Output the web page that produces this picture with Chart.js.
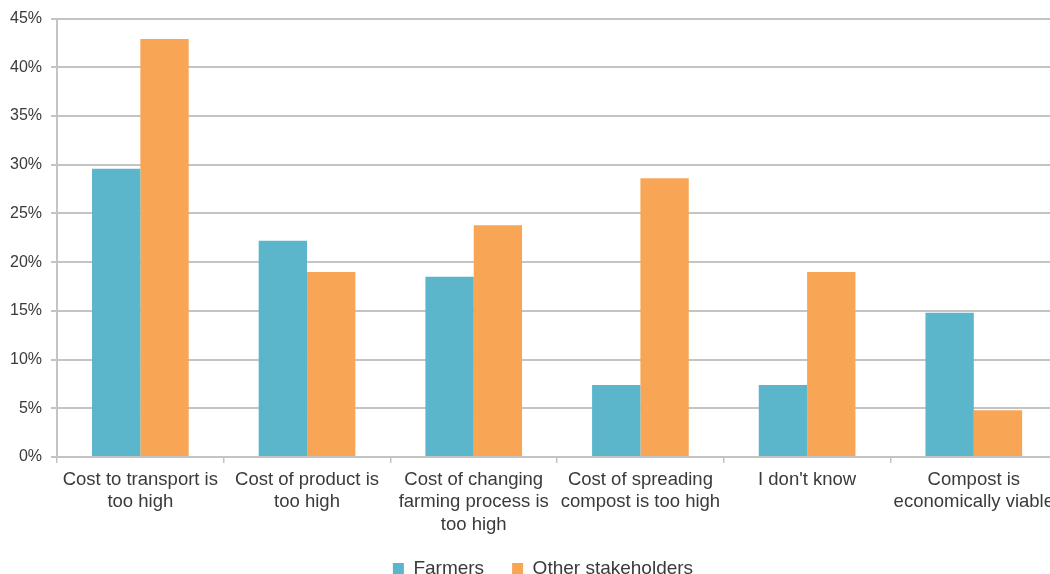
<!DOCTYPE html>
<html>
<head>
<meta charset="utf-8">
<script src="https://cdn.jsdelivr.net/npm/chart.js@4/dist/chart.umd.min.js"></script>
<style>
  html, body { margin: 0; padding: 0; background: #fff; overflow: hidden; }
  #wrap { width: 1060px; height: 574px; position: relative; }
</style>
</head>
<body>
<div id="wrap"><canvas id="c" width="1060" height="574"></canvas></div>
<script>
const categories = [
  ["Cost to transport is", "too high"],
  ["Cost of product is", "too high"],
  ["Cost of changing", "farming process is", "too high"],
  ["Cost of spreading", "compost is too high"],
  ["I don't know"],
  ["Compost is", "economically viable"]
];
const seriesNames = ["Farmers", "Other stakeholders"];
const farmers = [29.6, 22.2, 18.5, 7.4, 7.4, 14.8];
const otherStakeholders = [42.9, 19.0, 23.8, 28.6, 19.0, 4.8];
const yTicks = [0, 5, 10, 15, 20, 25, 30, 35, 40, 45];

const gridGrey = "#c4c4c4";
const textGrey = "#3a3a3a";
const fontFamily = "Liberation Sans, Arial, sans-serif";

// Move the legend slightly right of centre and up into the space under the labels
const legendShift = {
  id: "legendShift",
  afterLayout(chart) {
    const lg = chart.legend;
    if (lg) {
      lg.left += 13; lg.right += 13;
      lg.top -= 12; lg.bottom -= 12;
    }
  }
};

new Chart(document.getElementById("c"), {
  type: "bar",
  data: {
    labels: categories,
    datasets: [
      { label: seriesNames[0], data: farmers, backgroundColor: "#5bb6cc" },
      { label: seriesNames[1], data: otherStakeholders, backgroundColor: "#f8a656" }
    ]
  },
  plugins: [legendShift],
  options: {
    responsive: false,
    animation: false,
    layout: { padding: { top: 14, left: 0, right: 0, bottom: -26 } },
    datasets: { bar: { categoryPercentage: 0.58, barPercentage: 1.0 } },
    plugins: {
      tooltip: { enabled: false },
      legend: {
        position: "bottom",
        labels: {
          boxWidth: 11, boxHeight: 11, padding: 28,
          color: textGrey,
          font: { family: fontFamily, size: 19 }
        }
      }
    },
    scales: {
      x: {
        grid: { drawOnChartArea: false, color: gridGrey, lineWidth: 1.5, tickLength: 6, offset: true },
        border: { color: gridGrey, width: 2 },
        ticks: {
          color: textGrey, maxRotation: 0, autoSkip: false, padding: 6,
          font: { family: fontFamily, size: 18.5, lineHeight: 1.2 }
        },
        afterFit: (s) => { s.height = 86; }
      },
      y: {
        min: 0, max: 45,
        afterBuildTicks: (s) => { s.ticks = yTicks.map(v => ({ value: v })); },
        grid: { color: gridGrey, lineWidth: 2, tickLength: 6 },
        border: { color: gridGrey, width: 2 },
        ticks: {
          color: textGrey, padding: 9,
          font: { family: fontFamily, size: 16 },
          callback: (v) => v + "%"
        },
        afterFit: (s) => { s.width = 57; }
      }
    }
  }
});
</script>
</body>
</html>
